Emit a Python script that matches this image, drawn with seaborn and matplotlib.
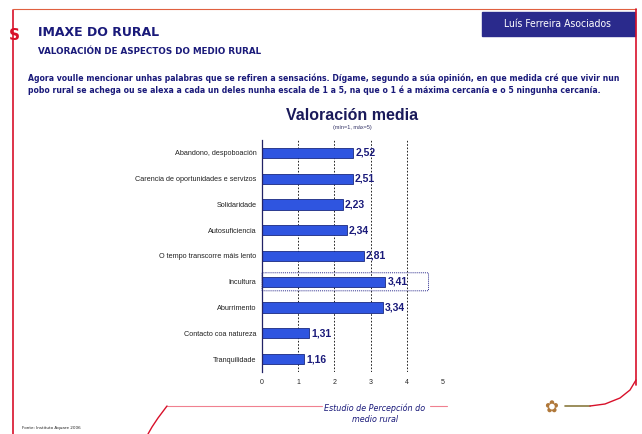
import numpy as np
import pandas as pd
import matplotlib
matplotlib.use("Agg")
import matplotlib.pyplot as plt
import seaborn as sns
from matplotlib.patches import FancyBboxPatch, Rectangle
from matplotlib.lines import Line2D

# Datos
aspectos = ["Abandono, despoboación",
            "Carencia de oportunidades e servizos",
            "Solidaridade",
            "Autosuficiencia",
            "O tempo transcorre máis lento",
            "Incultura",
            "Aburrimento",
            "Contacto coa natureza",
            "Tranquilidade"]
valoracion = [2.52, 2.51, 2.23, 2.34, 2.81, 3.41, 3.34, 1.31, 1.16]
eixo_x = [0, 1, 2, 3, 4, 5]
destacado = "Incultura"

navy = "#1a1a7a"
red = "#d8102a"

sns.set_style("white")
plt.rcParams["font.family"] = ["DejaVu Sans"]

df = pd.DataFrame({"aspecto": aspectos, "valor": valoracion})

fig = plt.figure(figsize=(6.42, 4.34), dpi=100)

# Cabeceira
fig.add_artist(Line2D([13/642, 13/642], [1 - 10/434, 0], color=red, lw=1.2))
fig.add_artist(Line2D([13/642, 636/642], [1 - 9/434, 1 - 9/434], color="#e06040", lw=0.8))
fig.add_artist(Line2D([636/642, 636/642], [1 - 9/434, 1 - 385/434], color=red, lw=1.2))
fig.add_artist(Rectangle((482/642, 1 - 36/434), 153/642, 24/434, transform=fig.transFigure,
                         color="#2a2a8c", zorder=1))
fig.text(558/642, 1 - 24/434, "Luís Ferreira Asociados", color="white", fontsize=7.5,
         ha="center", va="center", family="Liberation Sans Narrow", fontstretch="condensed")
fig.text(14/642, 1 - 35/434, "S", color=red, fontsize=11, fontweight="bold", ha="center", va="center")
fig.text(38/642, 1 - 33/434, "IMAXE DO RURAL", color=navy, fontsize=9, fontweight="bold", va="center")
fig.text(38/642, 1 - 52/434, "VALORACIÓN DE ASPECTOS DO MEDIO RURAL", color=navy, fontsize=6.3,
         fontweight="bold", va="center")
fig.text(28/642, 1 - 78/434,
         "Agora voulle mencionar unhas palabras que se refiren a sensacións. Dígame, segundo a súa opinión, en que medida cré que vivir nun",
         color=navy, fontsize=5.6, fontweight="bold", va="center")
fig.text(28/642, 1 - 90/434,
         "pobo rural se achega ou se alexa a cada un deles nunha escala de 1 a 5, na que o 1 é a máxima cercanía e o 5 ningunha cercanía.",
         color=navy, fontsize=5.6, fontweight="bold", va="center")

# Gráfico
ax = fig.add_axes([262/642, 1 - 372/434, 181/642, 232/434])
sns.barplot(data=df, x="valor", y="aspecto", orient="h", color="#2f55e0",
            edgecolor="#1a2a80", linewidth=0.6, width=0.4, saturation=1, ax=ax)
ax.set_xlim(0, 5)
ax.set_ylim(len(aspectos) - 0.5, -0.5)
ax.set_xticks(eixo_x)
ax.set_xticklabels([str(v) for v in eixo_x], fontsize=5, family="Liberation Sans")
ax.tick_params(axis="x", length=0, pad=5)
ax.set_yticks(range(len(aspectos)))
ax.set_yticklabels(aspectos, fontsize=5.2, family="Liberation Sans", color="#222222")
ax.tick_params(axis="y", length=0, pad=4)
ax.set_yticks(np.arange(-0.5, len(aspectos), 1), minor=True)
ax.tick_params(axis="y", which="minor", length=3, width=0.7, direction="out", color="#222266")
ax.set_xlabel("")
ax.set_ylabel("")
for s in ["top", "right", "bottom"]:
    ax.spines[s].set_visible(False)
ax.spines["left"].set_linewidth(0.9)
ax.spines["left"].set_color("#222266")
for x in eixo_x[1:]:
    ax.axvline(x, color="black", linestyle=(0, (2, 2)), linewidth=0.6, zorder=0)

for i, v in enumerate(valoracion):
    ax.text(v + 0.06, i, f"{v:.2f}".replace(".", ","), va="center", ha="left",
            fontsize=7.5, fontweight="bold", color=navy, family="Liberation Sans")

i_dest = aspectos.index(destacado)
ax.add_patch(FancyBboxPatch((0, i_dest - 0.35), 4.6, 0.7,
                            boxstyle="round,pad=0,rounding_size=0.1", fill=False,
                            edgecolor="#2a2a8c", linestyle=(0, (1, 1)), linewidth=0.7,
                            clip_on=False, mutation_aspect=0.15))

fig.text(352/642, 1 - 116/434, "Valoración media", fontsize=11.5, fontweight="bold", color="#1a1a5a",
         ha="center", va="center", family="Liberation Sans")
fig.text(352/642, 1 - 128/434, "(mín=1, máx=5)", fontsize=4, color="#333366",
         ha="center", va="center", family="Liberation Sans")

# Pé
fig.add_artist(Line2D([167/642, 322/642], [1 - 406/434, 1 - 406/434], color="#f08090", lw=0.8))
fig.add_artist(Line2D([430/642, 447/642], [1 - 406/434, 1 - 406/434], color="#f08090", lw=0.8))
fig.add_artist(Line2D([565/642, 590/642], [1 - 406/434, 1 - 406/434], color="#8a7a40", lw=1.2))
fig.add_artist(Line2D([148/642, 152/642, 158/642, 164/642, 167/642],
                      [0, 1 - 427/434, 1 - 418/434, 1 - 410/434, 1 - 406/434], color=red, lw=1.0))
fig.add_artist(Line2D([590/642, 605/642, 620/642, 630/642, 636/642],
                      [1 - 406/434, 1 - 404/434, 1 - 398/434, 1 - 390/434, 1 - 380/434], color=red, lw=1.0))
fig.text(375/642, 1 - 408/434, "Estudio de Percepción do", color=navy, fontsize=5.8,
         style="italic", ha="center", va="center")
fig.text(375/642, 1 - 419/434, "medio rural", color=navy, fontsize=5.8,
         style="italic", ha="center", va="center")
fig.text(551/642, 1 - 408/434, "✿", color="#b0783a", fontsize=12, ha="center", va="center")
fig.text(22/642, 1 - 428/434, "Fonte: Instituto Aquare 2006", color="#222222", fontsize=3,
         va="center")

fig.savefig("out.png", dpi=100)
